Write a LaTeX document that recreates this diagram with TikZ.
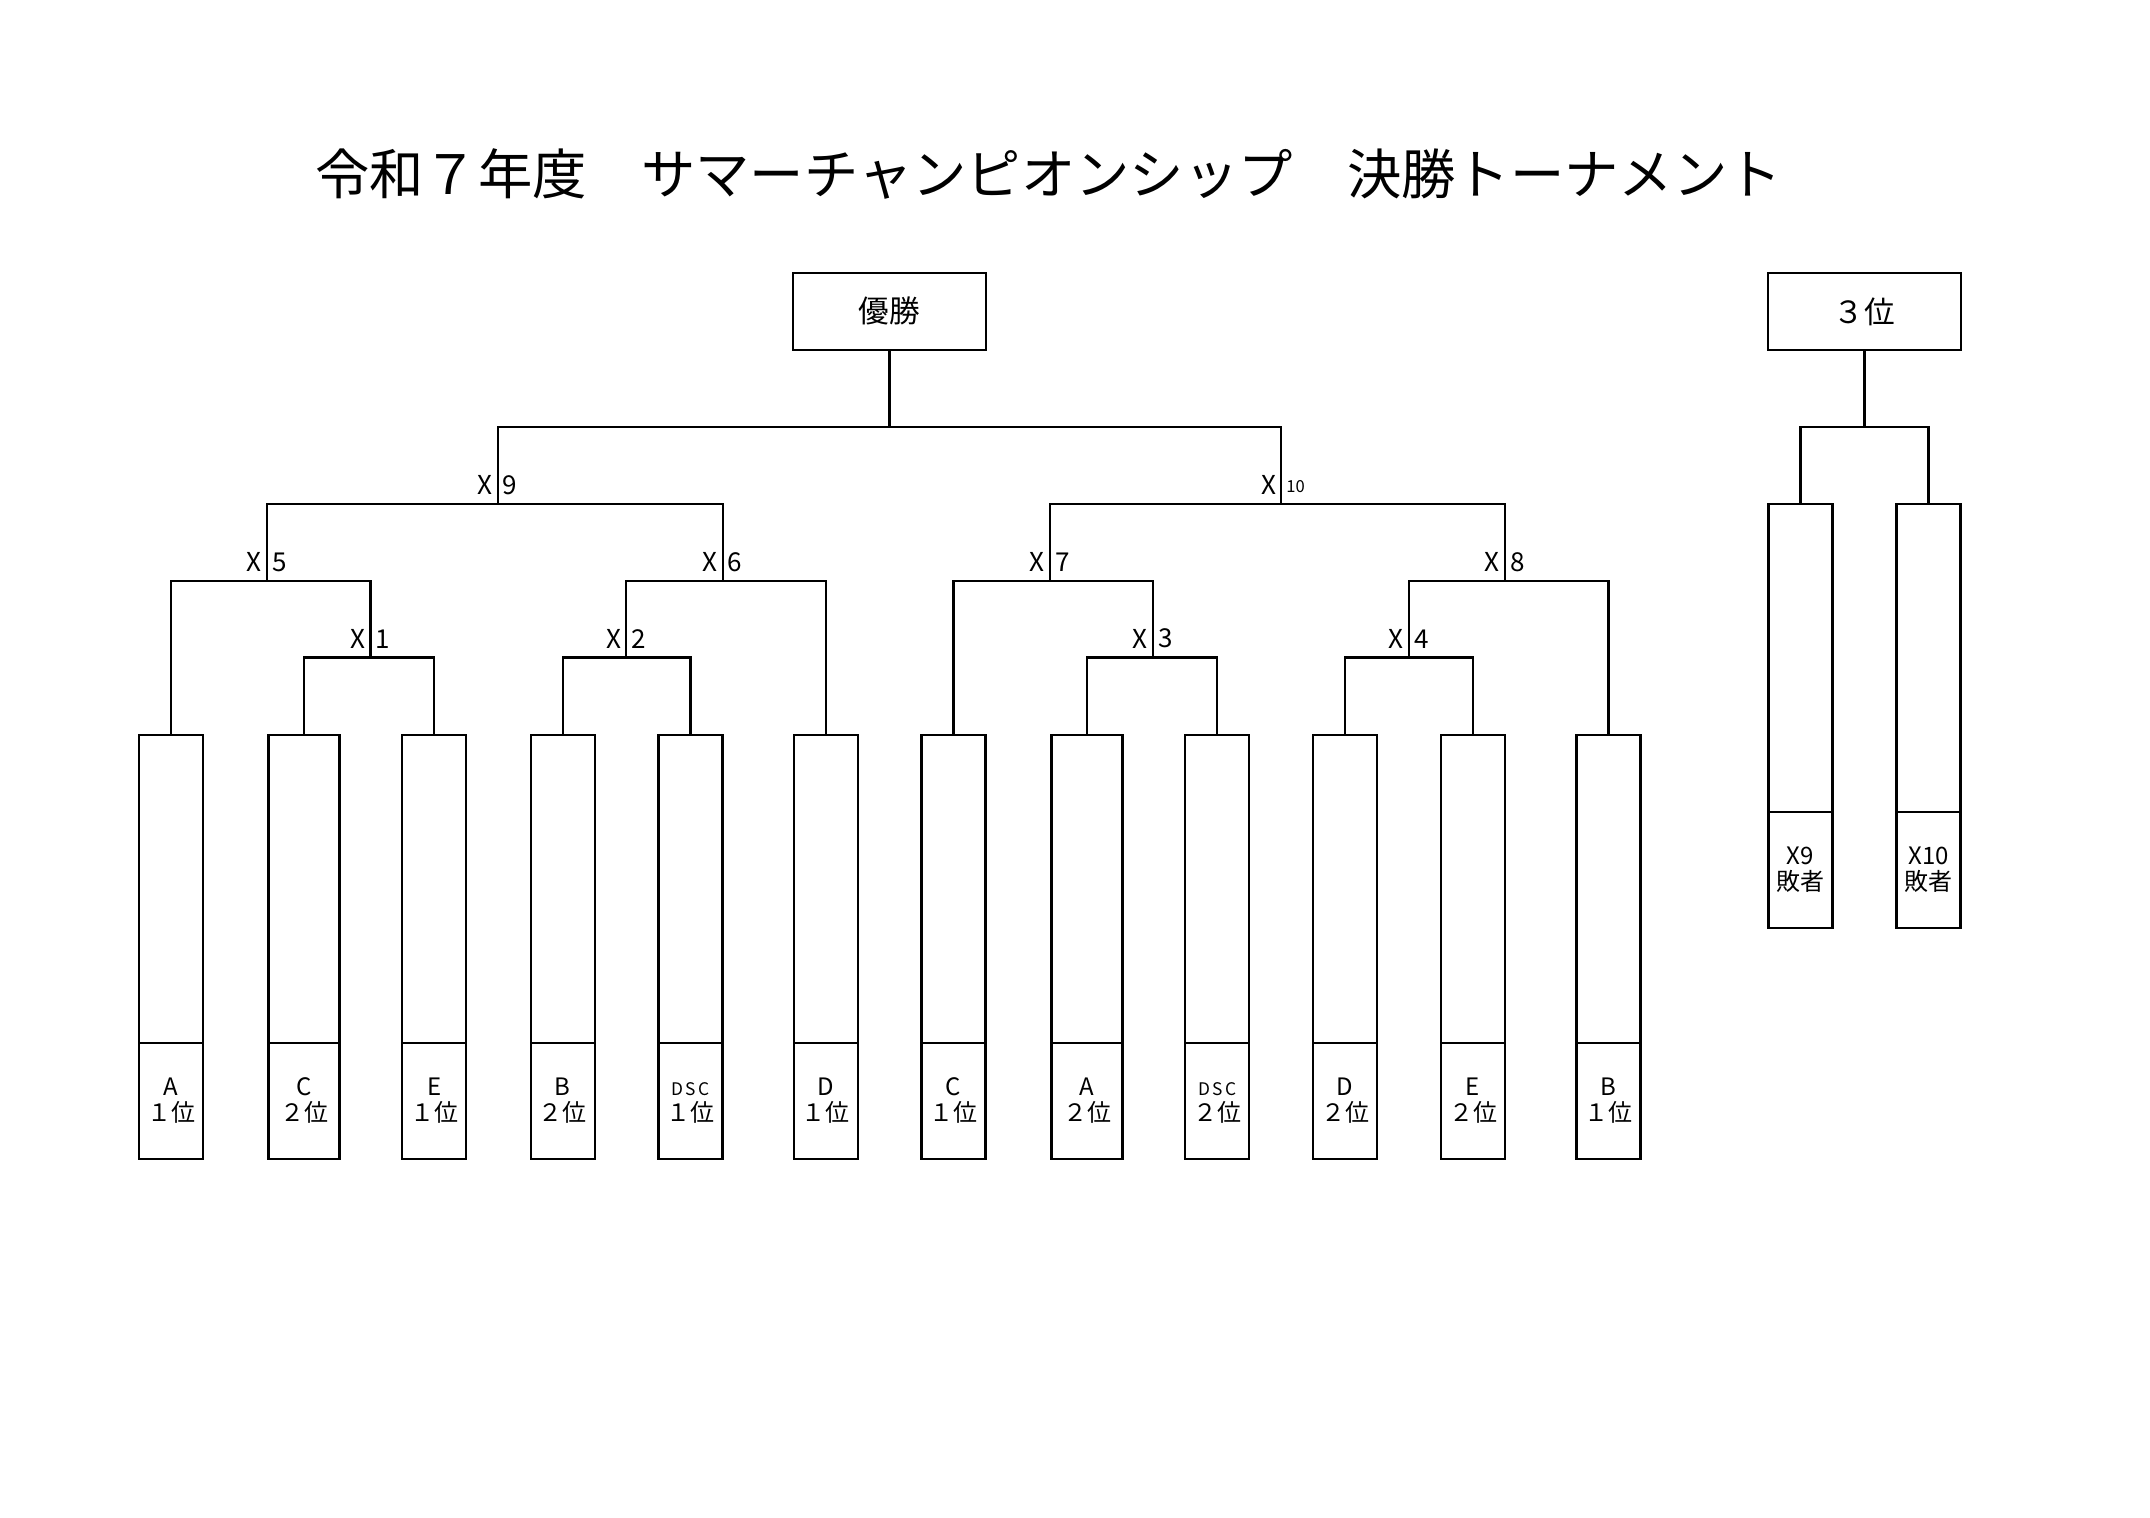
\documentclass[tikz,border=0pt]{standalone}
\usepackage{fontspec}
\setmainfont{Noto Sans CJK JP}
\usetikzlibrary{positioning}
\newcommand{\dsc}{\vphantom{A}{\fontsize{6.8}{8}\selectfont D\kern0.9pt S\kern0.9pt C}}

\begin{document}
\begin{tikzpicture}[x=0.392pt,y=0.392pt,yscale=-1,
  line width=0.9pt,
  teambox/.style={draw, minimum width=25.1pt, minimum height=120.7pt, inner sep=0pt, outer sep=0pt, anchor=north},
  seedbox/.style={draw, minimum width=25.1pt, minimum height=45.5pt, inner sep=0pt, outer sep=0pt, align=center, font=\fontsize{9.4}{10.2}\selectfont},
  widebox/.style={minimum width=27.8pt},
  headbox/.style={draw, minimum width=75.7pt, minimum height=30.2pt, outer sep=0pt, font=\fontsize{12}{14}\selectfont},
  xmark/.style={anchor=south east, inner xsep=1.6pt, inner ysep=3.3pt, font=\fontsize{10.2}{11}\selectfont},
  xnum/.style={anchor=south west, inner xsep=1.6pt, inner ysep=3.3pt, font=\fontsize{10.2}{11}\selectfont}]
\path[use as bounding box, fill=white] (0,0) rectangle (2150,1518);

% Title
\node[font=\fontsize{21.3}{24}\selectfont] (title) at (1048.5,174) {令和７年度　サマーチャンピオンシップ　決勝トーナメント};

% Winner boxes
\node[headbox] (win) at (889.5,311.4) {優勝};
\node[headbox] (third) at (1864.5,311.4) {３位};

% Team boxes
\node[teambox] (t1) at (171,735) {};
\node[seedbox, below=0pt of t1] (s1) {A\\１位};
\node[teambox, widebox] (t2) at (304,735) {};
\node[seedbox, widebox, below=0pt of t2] (s2) {C\\２位};
\node[teambox] (t3) at (434.3,735) {};
\node[seedbox, below=0pt of t3] (s3) {E\\１位};
\node[teambox] (t4) at (562.7,735) {};
\node[seedbox, below=0pt of t4] (s4) {B\\２位};
\node[teambox] (t5) at (690.6,735) {};
\node[seedbox, below=0pt of t5] (s5) {\dsc\\１位};
\node[teambox] (t6) at (825.9,735) {};
\node[seedbox, below=0pt of t6] (s6) {D\\１位};
\node[teambox] (t7) at (953.4,735) {};
\node[seedbox, below=0pt of t7] (s7) {C\\１位};
\node[teambox, widebox] (t8) at (1087,735) {};
\node[seedbox, widebox, below=0pt of t8] (s8) {A\\２位};
\node[teambox] (t9) at (1217.2,735) {};
\node[seedbox, below=0pt of t9] (s9) {\dsc\\２位};
\node[teambox] (t10) at (1345,735) {};
\node[seedbox, below=0pt of t10] (s10) {D\\２位};
\node[teambox] (t11) at (1473,735) {};
\node[seedbox, below=0pt of t11] (s11) {E\\２位};
\node[teambox] (t12) at (1608.6,735) {};
\node[seedbox, below=0pt of t12] (s12) {B\\１位};

% Losers of the semi finals
\node[teambox] (l9) at (1800.4,504) {};
\node[seedbox, below=0pt of l9] (k9) {X9\\敗者};
\node[teambox] (l10) at (1928.6,504) {};
\node[seedbox, below=0pt of l10] (k10) {X10\\敗者};

% Match points
\coordinate (m1) at (370.5,657.6);
\coordinate (m2) at (626.3,657.6);
\coordinate (m3) at (1153.1,657.6);
\coordinate (m4) at (1409.1,657.6);
\coordinate (m5) at (266.9,581.3);
\coordinate (m6) at (722.7,581.3);
\coordinate (m7) at (1050,581.3);
\coordinate (m8) at (1504.9,581.3);
\coordinate (m9) at (497.7,504);
\coordinate (m10) at (1281.2,504);
\coordinate (mf) at (889.5,426.8);
\coordinate (m3rd) at (1864.5,426.8);

% Lines
\draw (t2.north) |- (m1) -| (t3.north);
\draw (t4.north) |- (m2) -| (t5.north);
\draw (t8.north) |- (m3) -| (t9.north);
\draw (t10.north) |- (m4) -| (t11.north);
\draw (t1.north) |- (m5) -| (m1);
\draw (m2) |- (m6) -| (t6.north);
\draw (t7.north) |- (m7) -| (m3);
\draw (m4) |- (m8) -| (t12.north);
\draw (m5) |- (m9) -| (m6);
\draw (m7) |- (m10) -| (m8);
\draw (m9) |- (mf) -| (m10);
\draw (mf) -- (win.south);
\draw (l9.north) |- (m3rd) -| (l10.north);
\draw (m3rd) -- (third.south);

% Text Node
\node[xmark] (x1) at (m1) {X}; \node[xnum] (n1) at (m1) {1};
\node[xmark] (x2) at (m2) {X}; \node[xnum] (n2) at (m2) {2};
\node[xmark] (x3) at (m3) {X}; \node[xnum] (n3) at (m3) {3};
\node[xmark] (x4) at (m4) {X}; \node[xnum] (n4) at (m4) {4};
\node[xmark] (x5) at (m5) {X}; \node[xnum] (n5) at (m5) {5};
\node[xmark] (x6) at (m6) {X}; \node[xnum] (n6) at (m6) {6};
\node[xmark] (x7) at (m7) {X}; \node[xnum] (n7) at (m7) {7};
\node[xmark] (x8) at (m8) {X}; \node[xnum] (n8) at (m8) {8};
\node[xmark] (x9) at (m9) {X}; \node[xnum] (n9) at (m9) {9};
\node[xmark] (x10) at (m10) {X}; \node[xnum, font=\fontsize{6.5}{7}\selectfont, inner ysep=4pt] (n10) at (m10) {10};

\end{tikzpicture}
\end{document}
